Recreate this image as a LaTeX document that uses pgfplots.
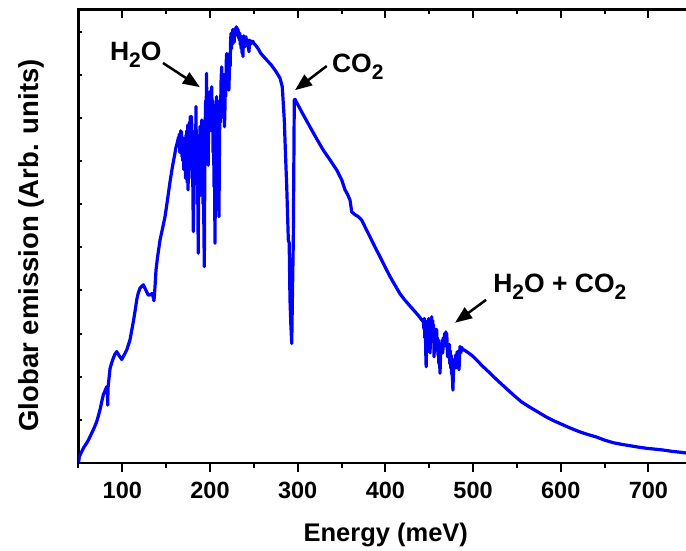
\documentclass[border=0pt]{standalone}
\usepackage{pgfplots}
\pgfplotsset{compat=1.18}
\usepackage{fontspec}
\setmainfont{Liberation Sans}
\usetikzlibrary{arrows.meta}
\newcommand{\sub}[1]{\raisebox{-7pt}{\fontsize{21}{21}\selectfont #1}}
\begin{document}
\begin{tikzpicture}
\pgfplotsset{
  base/.style={
    at={(0,0)}, anchor=south west, scale only axis,
    width=608.5pt, height=453.5pt,
    xmin=50, xmax=744, ymin=0, ymax=10.51,
  }
}
% top ticks (inward)
\begin{axis}[base, axis line style={draw=none},
  xtick={100,200,...,700}, minor xtick={50,150,...,750},
  xtick pos=right, xtick align=inside, xticklabels={},
  ytick=\empty, major tick length=9pt, minor tick length=5pt,
  every tick/.style={black, line width=2pt}]
\end{axis}
% left ticks (inward, short)
\begin{axis}[base, axis line style={draw=none},
  xtick=\empty, ytick={1,...,10}, ytick pos=left, ytick align=inside,
  yticklabels={}, major tick length=4pt,
  every tick/.style={black, line width=2pt}]
\end{axis}
% main axis
\begin{axis}[base,
  axis line style={line width=2.2pt},
  xtick={100,200,...,700}, minor xtick={50,150,...,750},
  xticklabels={100,200,300,400,500,600,700},
  xtick pos=left, xtick align=outside,
  major tick length=9pt, minor tick length=5pt,
  every tick/.style={black, line width=2pt},
  ytick=\empty,
  xticklabel style={font=\fontsize{23.5}{23.5}\selectfont\bfseries, anchor=base, yshift=-27pt},
  xlabel={Energy (meV)},
  xlabel style={font=\fontsize{25.5}{25.5}\selectfont\bfseries, at={(axis description cs:0.505,-0.1731)}, anchor=base, inner sep=0pt},
  ylabel={Globar emission (Arb. units)},
  ylabel style={font=\fontsize{27.5}{27.5}\selectfont\bfseries, at={(axis description cs:-0.065,0.48)}, anchor=base, inner sep=0pt},
  clip=true]
\addplot[color={rgb,255:red,0;green,0;blue,255}, line width=3.2pt, line join=round, mark=none] table {
x y
50 0.0
51 0.15
53.6 0.26
56 0.36
59.3 0.46
62 0.56
65 0.69
68 0.82
70.8 0.96
72.5 1.08
74.5 1.23
76.5 1.42
78.3 1.58
80 1.66
82.2 1.77
83.0 1.60
83.3 1.34
83.7 1.75
85 2.00
86 2.19
88 2.33
89.7 2.43
91.5 2.52
93.6 2.58
96 2.50
99.3 2.40
102 2.50
105 2.62
108.7 2.85
110.5 3.05
112.5 3.27
114.5 3.52
116.4 3.78
118 3.93
120.1 4.05
124 4.13
126.5 4.02
129.6 3.89
132 3.90
134.2 3.93
136.1 3.76
137 4.0
138.4 4.47
140 4.75
143 5.17
146 5.45
148.7 5.71
151.5 6.10
154.4 6.52
157 6.85
160 7.18
161 7.30
162 7.37
163 7.45
164 7.55
164.5 7.35
165 7.62
165.5 7.20
166 7.40
166.5 7.70
167 7.30
167.5 7.68
168 7.10
168.5 7.55
169 7.00
169.5 7.50
170 6.80
170.5 7.45
171 7.02
171.5 7.50
172 6.60
172.5 7.60
173 6.90
173.5 7.70
174 6.50
174.5 7.83
175 6.33
175.5 7.60
176 6.80
176.5 7.90
177 7.00
177.5 8.03
178 7.20
178.5 7.70
179 8.03
179.5 6.60
180 7.40
180.5 6.20
181 5.36
181.5 7.00
182 7.60
182.5 6.80
183 7.70
183.5 7.00
184 8.26
184.5 6.80
185 7.40
185.5 6.00
186 7.20
186.5 4.86
187 6.40
187.5 7.60
188 6.60
188.5 7.80
189 6.20
189.5 7.70
190 7.00
190.5 7.95
191 6.80
191.5 7.50
192 6.00
192.5 7.20
193 5.40
193.5 4.55
194 6.60
194.5 7.80
195 8.40
195.5 7.60
196 9.03
196.5 8.00
197 7.40
197.5 8.30
198 6.90
198.5 8.50
199 7.80
199.5 8.60
200 7.95
200.5 8.40
201 7.70
201.5 8.60
202 8.72
202.5 7.80
203 8.40
203.5 7.20
204 8.30
204.5 6.40
205 7.00
205.7 5.09
206.2 7.00
206.8 7.80
207.5 8.49
208 7.60
208.5 8.40
209 7.20
209.5 6.40
210.2 5.71
210.8 7.40
211.3 8.30
212 7.90
212.5 8.80
213.3 9.18
214 8.30
214.5 8.90
215 8.00
215.5 9.00
216 8.40
216.5 7.79
217 8.20
217.5 8.90
218 8.50
218.5 9.30
219 9.49
219.5 8.90
220 9.20
220.5 8.70
221 9.10
221.5 8.64
222 9.00
222.5 9.50
223 9.20
223.5 9.80
224 9.96
224.5 9.60
225 9.90
225.5 9.70
226 10.05
226.5 9.80
227 10.00
227.5 9.75
228 10.03
228.5 9.90
229 10.08
229.5 9.95
230 10.11
230.5 9.98
231 10.08
231.5 9.90
232 10.05
232.5 9.85
233 9.98
233.5 9.80
234 9.96
234.5 9.70
235 9.90
235.5 9.60
236 9.85
236.5 9.50
237 9.80
237.5 9.42
238 9.75
238.5 9.90
239 9.70
239.5 9.85
240 9.65
241 9.88
241.5 9.70
242 9.82
243 9.75
244 9.60
244.5 9.53
245 9.80
246 9.70
247 9.78
248 9.75
249 9.77
250 9.72
252 9.68
255 9.60
258 9.49
262 9.40
266 9.31
270 9.22
275 9.08
279.8 8.92
282.4 8.72
284.7 7.95
286 7.2
287.5 6.40
289.3 5.17
290.3 5.10
291.2 3.78
292.2 3.2
293.2 2.77
294 3.9
295 5.17
296.1 8.41
296.9 8.43
305 8.12
314 7.79
322 7.50
329.2 7.25
337 7.02
344.5 6.79
350.2 6.56
354 6.33
357 6.22
359.7 6.09
361.6 5.82
365 5.76
369.1 5.71
373 5.63
378 5.42
382.5 5.24
388 5.01
393.9 4.78
400 4.53
405.3 4.32
411 4.12
416.7 3.92
422 3.78
428 3.64
432 3.55
437.5 3.42
441 3.33
443.3 3.27
444 3.10
444.5 3.35
445 2.90
445.5 3.30
446 2.60
446.5 2.23
447 2.80
447.5 3.20
448 2.70
448.5 3.30
449 2.90
449.5 3.35
450 2.80
450.5 3.20
451 2.55
451.5 3.30
452 2.90
452.8 3.39
453.5 3.00
454 3.30
454.5 2.80
455 3.20
455.5 2.46
456 2.80
456.5 3.05
457 2.70
457.5 3.10
458.5 3.08
459 2.60
459.5 2.90
460 2.50
460.5 2.85
461 2.30
461.5 2.60
462.3 2.08
463 2.50
463.5 2.77
464.2 2.60
465 2.85
465.5 2.55
466 2.90
467 2.70
467.5 3.00
468 2.80
469 3.04
469.5 2.85
470 3.00
470.5 2.70
471 2.46
471.8 2.75
472.5 2.50
473 2.75
473.5 2.30
474 2.60
474.5 2.20
475 2.50
475.5 2.10
476.5 2.00
477 1.69
477.5 2.00
478 2.30
478.5 2.40
479.4 2.31
480 2.50
480.5 2.20
481 2.45
482 2.58
482.5 2.30
483.2 2.50
484 2.16
484.5 2.45
485.1 2.70
486 2.55
487 2.68
488.5 2.62
490 2.62
492.7 2.58
495 2.55
500 2.47
505 2.37
510 2.26
520 2.07
527 1.93
535 1.78
545.9 1.58
555 1.42
565 1.29
575 1.17
584 1.06
593 0.97
603 0.88
612 0.80
622 0.72
631 0.66
641 0.60
650 0.53
660 0.47
670 0.43
679 0.40
688 0.37
698 0.34
708 0.32
717 0.30
727 0.27
736 0.25
744 0.23
};
\end{axis}
% annotations
\begin{axis}[base, axis lines=none, clip=false]
\addplot[draw=none] coordinates {(50,0)};
\node[anchor=base west, inner sep=0pt, font=\fontsize{26.5}{26.5}\selectfont\bfseries] at (axis cs:85.7,9.32) {H\sub{\bfseries 2}O};
\node[anchor=base west, inner sep=0pt, font=\fontsize{26.5}{26.5}\selectfont\bfseries] at (axis cs:339,9.045) {CO\sub{\bfseries 2}};
\node[anchor=base west, inner sep=0pt, font=\fontsize{26.5}{26.5}\selectfont\bfseries] at (axis cs:522.8,3.947) {H\sub{\bfseries 2}O + CO\sub{\bfseries 2}};
\draw[line width=2.5pt, -{Triangle[length=17pt,width=13pt]}] (axis cs:146.4,9.27) -- (axis cs:188.5,8.71);
\draw[line width=2.5pt, -{Triangle[length=17pt,width=13pt]}] (axis cs:333.1,9.20) -- (axis cs:296.9,8.64);
\draw[line width=2.5pt, -{Triangle[length=17pt,width=13pt]}] (axis cs:514.8,3.78) -- (axis cs:479.4,3.25);
\end{axis}
\pgfresetboundingbox
\useasboundingbox (-78.5pt,-88pt) rectangle (607.5pt,463pt);
\end{tikzpicture}
\end{document}
